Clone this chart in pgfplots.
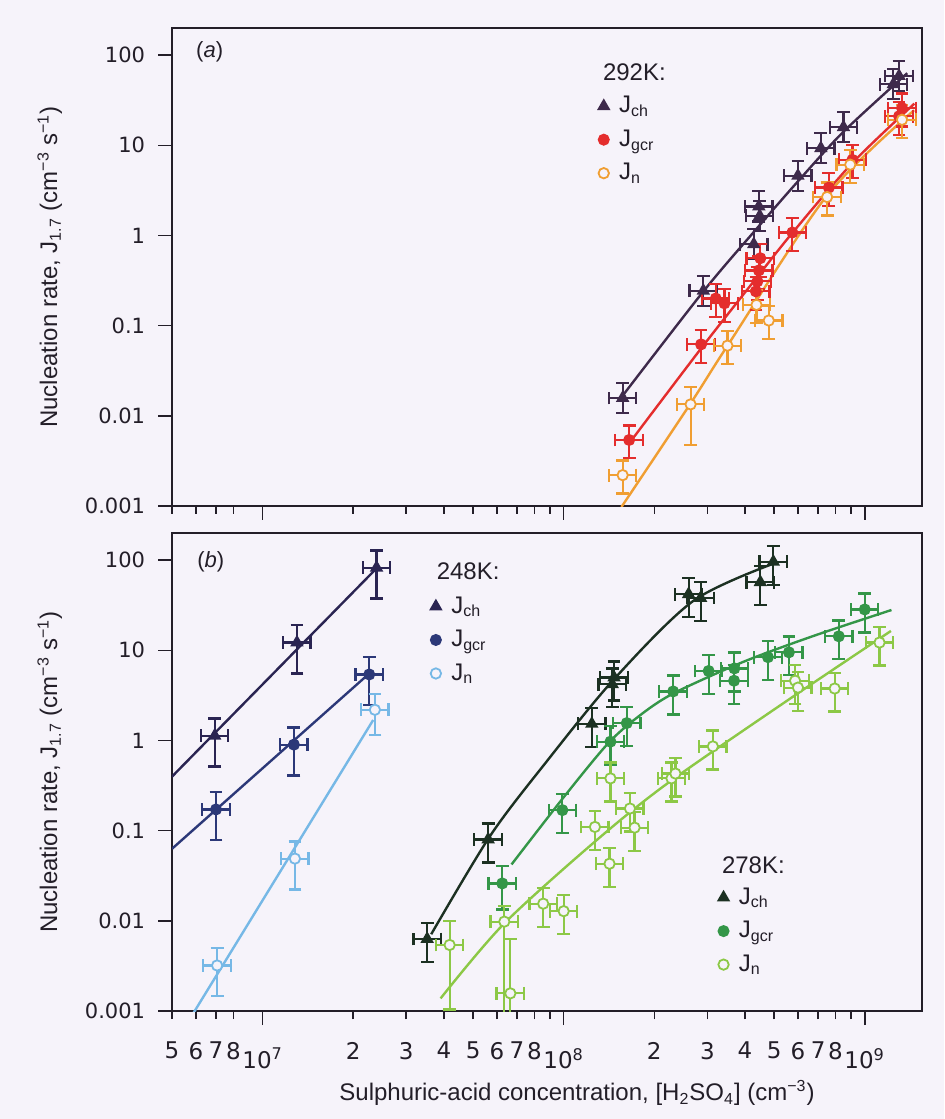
\documentclass[border=0pt]{standalone}
\usepackage{fontspec}
\setmainfont{Liberation Sans}
\newfontfamily\dejavu{DejaVu Sans}
\usepackage{pgfplots}
\usepackage{pgfplotstable}
\pgfplotsset{compat=1.18}

\definecolor{bg}{RGB}{246,243,250}
\definecolor{axc}{RGB}{35,30,40}
\definecolor{ach}{RGB}{62,42,75}
\definecolor{agcr}{RGB}{228,45,45}
\definecolor{an}{RGB}{240,158,50}
\definecolor{bch}{RGB}{42,36,82}
\definecolor{bgcr}{RGB}{44,56,120}
\definecolor{bn}{RGB}{118,184,230}
\definecolor{cch}{RGB}{28,48,34}
\definecolor{cgcr}{RGB}{52,150,72}
\definecolor{cn}{RGB}{140,200,70}

\pgfplotstableread{
x y u d
1.57e8 0.0158 1.47 1.47
2.91e8 0.244 1.47 1.47
4.28e8 0.80 1.47 1.47
4.48e8 1.65 1.47 1.47
4.45e8 2.1 1.47 1.47
6.0e8 4.6 1.47 1.47
7.15e8 9.3 1.47 1.47
8.5e8 15.9 1.47 1.47
1.245e9 47.7 1.47 1.47
1.30e9 58.7 1.47 1.47
}\tAch
\pgfplotstableread{
x y u d
1.65e8 0.0054 1.45 1.6
2.86e8 0.062 1.45 1.6
3.42e8 0.177 1.45 1.6
3.2e8 0.20 1.45 1.6
4.35e8 0.24 1.45 1.6
4.4e8 0.31 1.45 1.6
4.45e8 0.41 1.45 1.6
4.5e8 0.56 1.45 1.6
5.75e8 1.08 1.45 1.6
7.6e8 3.4 1.45 1.6
9.1e8 6.9 1.45 1.6
1.30e9 21 1.45 1.6
1.33e9 25.9 1.45 1.6
}\tAgcr
\pgfplotstableread{
x y u d
1.57e8 0.0022 1.45 1.6
2.64e8 0.0134 1.55 2.8
3.5e8 0.060 1.45 1.6
4.37e8 0.17 1.45 1.6
4.8e8 0.114 1.45 1.6
7.5e8 2.67 1.45 1.6
8.95e8 6.1 1.45 1.6
1.33e9 19.2 1.45 1.6
}\tAn
\pgfplotstableread{
x y u d
6.93e6 1.13 1.55 2.2
1.30e7 12.2 1.55 2.2
2.39e7 82.6 1.55 2.2
}\tBch
\pgfplotstableread{
x y u d
7.0e6 0.172 1.55 2.2
1.27e7 0.90 1.55 2.2
2.26e7 5.4 1.55 2.2
}\tBgcr
\pgfplotstableread{
x y u d
7.06e6 0.0032 1.55 2.2
1.28e7 0.049 1.55 2.2
2.36e7 2.19 1.5 1.9
}\tBn
\pgfplotstableread{
x y u d
3.52e7 0.0063 1.5 1.8
5.61e7 0.080 1.5 1.8
1.24e8 1.53 1.5 1.8
1.45e8 4.2 1.5 1.8
1.47e8 5.0 1.5 1.8
2.6e8 42 1.5 1.8
2.85e8 38 1.5 1.8
4.5e8 57 1.5 1.8
4.97e8 96 1.5 1.8
}\tCch
\pgfplotstableread{
x y u d
6.25e7 0.026 1.55 1.95
9.9e7 0.169 1.5 1.8
1.43e8 0.97 1.5 1.8
1.62e8 1.56 1.5 1.8
2.31e8 3.5 1.5 1.8
3.03e8 5.9 1.5 1.8
3.69e8 6.3 1.5 1.8
3.68e8 4.6 1.5 1.8
4.77e8 8.4 1.5 1.8
5.6e8 9.5 1.5 1.8
8.2e8 14.3 1.5 1.8
1.0e9 28.4 1.5 1.8
}\tCgcr
\pgfplotstableread{
x y u d
4.18e7 0.0054 1.86 5.2
6.35e7 0.0098 1.5 12
6.65e7 0.00157 4.0 12
8.55e7 0.0155 1.5 1.8
1.0e8 0.0128 1.5 1.8
1.27e8 0.110 1.5 1.8
1.42e8 0.043 1.5 1.8
1.43e8 0.38 1.5 1.8
1.66e8 0.176 1.5 1.8
1.72e8 0.108 1.5 1.8
2.28e8 0.38 1.5 1.8
2.35e8 0.43 1.5 1.8
3.13e8 0.86 1.5 1.8
5.87e8 4.6 1.5 1.8
6.0e8 3.86 1.5 1.8
7.95e8 3.77 1.5 1.8
1.12e9 12.2 1.5 1.8
}\tCn

\begin{document}
\begin{tikzpicture}
\fill[bg] (0pt,0pt) rectangle (472pt,-559.5pt);

% ================= panel (a) =================
\begin{axis}[at={(86pt,-253pt)}, anchor=south west,
    scale only axis, width=375pt, height=239pt,
    xmode=log, ymode=log,
    xmin=5e6, xmax=1.55e9, ymin=1e-3, ymax=200,
    axis line style={axc, line width=0.9pt},
    tick align=outside, tick pos=left,
    major tick length=7pt, minor tick length=4pt,
    every tick/.style={axc, line width=0.8pt},
    ytick={0.001,0.01,0.1,1,10,100},
    yticklabels={0.001,0.01,0.1,1,10,100},
    yminorticks=false,
    xtick={1e7,1e8,1e9},
    xticklabels={,,},
    extra x ticks={5e6,6e6,7e6,8e6,2e7,3e7,4e7,5e7,6e7,7e7,8e7,2e8,3e8,4e8,5e8,6e8,7e8,8e8},
    extra x tick labels={,,,,,,,,,,,,,,,,,},
    extra x tick style={major tick length=4pt},
    y tick label style={font=\dejavu\fontsize{10.5}{12}\selectfont, text=axc, xshift=-3pt},
    ylabel={Nucleation rate, J\textsubscript{1.7} (cm\textsuperscript{−3} s\textsuperscript{−1})},
    ylabel style={at={(axis description cs:-0.163,0.5)}, anchor=center, font=\fontsize{12}{14}\selectfont, text=axc},
    legend cell align=left,
    legend style={draw=none, fill=none, font=\fontsize{12}{14}\selectfont, text=axc, row sep=3pt, inner sep=0pt,
      /tikz/every odd column/.append style={column sep=3pt},
      at={(axis cs:1.30e8,39)}, anchor=north west}]
\addplot[color=ach, line width=1.2pt, forget plot, no marks, smooth] coordinates {(1.567e8,0.0166) (2.911e8,0.240) (4.335e8,1.148) (5.998e8,3.98) (8.49e8,14.1) (1.384e9,63.1)};
\addplot[color=agcr, line width=1.2pt, forget plot, no marks, smooth] coordinates {(1.648e8,0.00493) (2.864e8,0.0562) (4.395e8,0.347) (5.754e8,1.072) (9.078e8,6.31) (1.462e9,29.0)};
\addplot[color=an, line width=1.2pt, forget plot, no marks, smooth] coordinates {(1.556e8,0.000977) (2.642e8,0.0138) (3.532e8,0.0628) (7.499e8,2.78) (1.459e9,24.5)};
\addplot[color=ach, only marks, mark=triangle*, mark size=3.1pt, line width=0.8pt,
  error bars/.cd, x dir=both, y dir=both, x explicit, y explicit,
  error bar style={line width=1.1pt}, error mark options={rotate=90, mark size=3.2pt, line width=1.1pt}]
  table[x=x, y=y, x error plus expr=\thisrow{x}*0.11, x error minus expr=\thisrow{x}*0.1,
    y error plus expr=\thisrow{y}*(\thisrow{u}-1), y error minus expr=\thisrow{y}*(1-1/\thisrow{d})] {\tAch};
\addlegendentry{J\textsubscript{ch}}
\addplot[color=agcr, only marks, mark=*, mark size=2.6pt, line width=0.8pt,
  error bars/.cd, x dir=both, y dir=both, x explicit, y explicit,
  error bar style={line width=1.1pt}, error mark options={rotate=90, mark size=3.2pt, line width=1.1pt}]
  table[x=x, y=y, x error plus expr=\thisrow{x}*0.11, x error minus expr=\thisrow{x}*0.1,
    y error plus expr=\thisrow{y}*(\thisrow{u}-1), y error minus expr=\thisrow{y}*(1-1/\thisrow{d})] {\tAgcr};
\addlegendentry{J\textsubscript{gcr}}
\addplot[color=an, only marks, mark=*, mark size=2.6pt, line width=0.9pt, mark options={fill=bg},
  error bars/.cd, x dir=both, y dir=both, x explicit, y explicit,
  error bar style={line width=1.1pt}, error mark options={rotate=90, mark size=3.2pt, line width=1.1pt}]
  table[x=x, y=y, x error plus expr=\thisrow{x}*0.11, x error minus expr=\thisrow{x}*0.1,
    y error plus expr=\thisrow{y}*(\thisrow{u}-1), y error minus expr=\thisrow{y}*(1-1/\thisrow{d})] {\tAn};
\addlegendentry{J\textsubscript{n}}
\node[anchor=west, font=\fontsize{12}{14}\selectfont, text=axc] at (axis cs:1.28e8,64) {292K:};
\node[anchor=west, font=\fontsize{11}{13}\selectfont, text=axc] at (axis cs:5.7e6,110) {(\textit{a})};
\end{axis}

% ================= panel (b) =================
\begin{axis}[at={(86pt,-505.5pt)}, anchor=south west,
    scale only axis, width=375pt, height=239pt,
    xmode=log, ymode=log,
    xmin=5e6, xmax=1.55e9, ymin=1e-3, ymax=200,
    axis line style={axc, line width=0.9pt},
    tick align=outside, tick pos=left,
    major tick length=7pt, minor tick length=4pt,
    every tick/.style={axc, line width=0.8pt},
    ytick={0.001,0.01,0.1,1,10,100},
    yticklabels={0.001,0.01,0.1,1,10,100},
    yminorticks=false,
    xtick={1e7,1e8,1e9},
    xticklabels={{10\textsuperscript{7}},{10\textsuperscript{8}},{10\textsuperscript{9}}},
    x tick label style={font=\dejavu\fontsize{11.5}{12}\selectfont, text=axc, yshift=-8pt},
    extra x ticks={5e6,6e6,7e6,8e6,2e7,3e7,4e7,5e7,6e7,7e7,8e7,2e8,3e8,4e8,5e8,6e8,7e8,8e8},
    extra x tick labels={5,6,7,8,2,3,4,5,6,7,8,2,3,4,5,6,7,8},
    extra x tick style={major tick length=4pt, tick label style={font=\dejavu\fontsize{7.5}{8}\selectfont, yshift=0pt}},
    y tick label style={font=\dejavu\fontsize{10.5}{12}\selectfont, text=axc, xshift=-3pt},
    ylabel={Nucleation rate, J\textsubscript{1.7} (cm\textsuperscript{−3} s\textsuperscript{−1})},
    ylabel style={at={(axis description cs:-0.163,0.5)}, anchor=center, font=\fontsize{12}{14}\selectfont, text=axc},
    xlabel={Sulphuric-acid concentration, [H\textsubscript{2}SO\textsubscript{4}] (cm\textsuperscript{−3})},
    xlabel style={at={(axis description cs:0.54,-0.172)}, anchor=center, font=\fontsize{12}{14}\selectfont, text=axc},
    legend cell align=left,
    legend style={draw=none, fill=none, font=\fontsize{12}{14}\selectfont, text=axc, row sep=3pt, inner sep=0pt,
      /tikz/every odd column/.append style={column sep=3pt},
      at={(axis cs:3.6e7,44)}, anchor=north west}]
\addplot[color=bch, line width=1.2pt, forget plot, no marks] coordinates {(5e6,0.398) (2.43e7,85.9)};
\addplot[color=bgcr, line width=1.2pt, forget plot, no marks] coordinates {(5e6,0.063) (2.27e7,5.61)};
\addplot[color=bn, line width=1.2pt, forget plot, no marks] coordinates {(5.82e6,0.00089) (2.33e7,1.69)};
\addplot[color=bch, only marks, mark=triangle*, mark size=3.1pt, line width=0.8pt,
  error bars/.cd, x dir=both, y dir=both, x explicit, y explicit,
  error bar style={line width=1.1pt}, error mark options={rotate=90, mark size=3.2pt, line width=1.1pt}]
  table[x=x, y=y, x error plus expr=\thisrow{x}*0.11, x error minus expr=\thisrow{x}*0.1,
    y error plus expr=\thisrow{y}*(\thisrow{u}-1), y error minus expr=\thisrow{y}*(1-1/\thisrow{d})] {\tBch};
\addlegendentry{J\textsubscript{ch}}
\addplot[color=bgcr, only marks, mark=*, mark size=2.6pt, line width=0.8pt,
  error bars/.cd, x dir=both, y dir=both, x explicit, y explicit,
  error bar style={line width=1.1pt}, error mark options={rotate=90, mark size=3.2pt, line width=1.1pt}]
  table[x=x, y=y, x error plus expr=\thisrow{x}*0.11, x error minus expr=\thisrow{x}*0.1,
    y error plus expr=\thisrow{y}*(\thisrow{u}-1), y error minus expr=\thisrow{y}*(1-1/\thisrow{d})] {\tBgcr};
\addlegendentry{J\textsubscript{gcr}}
\addplot[color=bn, only marks, mark=*, mark size=2.6pt, line width=0.9pt, mark options={fill=bg},
  error bars/.cd, x dir=both, y dir=both, x explicit, y explicit,
  error bar style={line width=1.1pt}, error mark options={rotate=90, mark size=3.2pt, line width=1.1pt}]
  table[x=x, y=y, x error plus expr=\thisrow{x}*0.11, x error minus expr=\thisrow{x}*0.1,
    y error plus expr=\thisrow{y}*(\thisrow{u}-1), y error minus expr=\thisrow{y}*(1-1/\thisrow{d})] {\tBn};
\addlegendentry{J\textsubscript{n}}
\node[anchor=west, font=\fontsize{12}{14}\selectfont, text=axc] at (axis cs:3.59e7,76) {248K:};
\node[anchor=west, font=\fontsize{11}{13}\selectfont, text=axc] at (axis cs:5.75e6,95) {(\textit{b})};
\node[anchor=west, font=\fontsize{12}{14}\selectfont, text=axc] at (axis cs:3.18e8,0.0416) {278K:};
\end{axis}

\begin{axis}[at={(86pt,-505.5pt)}, anchor=south west, hide axis,
    scale only axis, width=375pt, height=239pt,
    xmode=log, ymode=log,
    xmin=5e6, xmax=1.55e9, ymin=1e-3, ymax=200,
    legend cell align=left,
    legend style={draw=none, fill=none, font=\fontsize{12}{14}\selectfont, text=axc, row sep=3pt, inner sep=0pt,
      /tikz/every odd column/.append style={column sep=3pt},
      at={(axis cs:3.25e8,0.026)}, anchor=north west}]
\addplot[color=cch, line width=1.2pt, forget plot, no marks, smooth] coordinates {(3.63e7,0.0071) (5.69e7,0.087) (8.65e7,0.55) (1.47e8,4.79) (2.70e8,35.5) (5.02e8,92.5)};
\addplot[color=cgcr, line width=1.2pt, forget plot, no marks, smooth] coordinates {(6.71e7,0.0422) (1.005e8,0.240) (1.406e8,0.933) (1.778e8,1.862) (2.307e8,3.31) (3.954e8,7.46) (6.79e8,14.52) (1.227e9,28.0)};
\addplot[color=cn, line width=1.2pt, forget plot, no marks, smooth] coordinates {(3.90e7,0.00138) (6.34e7,0.00933) (1.30e8,0.0809) (2.25e8,0.349) (5.69e8,2.96) (1.222e9,16.4)};
\addplot[color=cch, only marks, mark=triangle*, mark size=3.1pt, line width=0.8pt,
  error bars/.cd, x dir=both, y dir=both, x explicit, y explicit,
  error bar style={line width=1.1pt}, error mark options={rotate=90, mark size=3.2pt, line width=1.1pt}]
  table[x=x, y=y, x error plus expr=\thisrow{x}*0.11, x error minus expr=\thisrow{x}*0.1,
    y error plus expr=\thisrow{y}*(\thisrow{u}-1), y error minus expr=\thisrow{y}*(1-1/\thisrow{d})] {\tCch};
\addlegendentry{J\textsubscript{ch}}
\addplot[color=cgcr, only marks, mark=*, mark size=2.6pt, line width=0.8pt,
  error bars/.cd, x dir=both, y dir=both, x explicit, y explicit,
  error bar style={line width=1.1pt}, error mark options={rotate=90, mark size=3.2pt, line width=1.1pt}]
  table[x=x, y=y, x error plus expr=\thisrow{x}*0.11, x error minus expr=\thisrow{x}*0.1,
    y error plus expr=\thisrow{y}*(\thisrow{u}-1), y error minus expr=\thisrow{y}*(1-1/\thisrow{d})] {\tCgcr};
\addlegendentry{J\textsubscript{gcr}}
\addplot[color=cn, only marks, mark=*, mark size=2.6pt, line width=0.9pt, mark options={fill=bg},
  error bars/.cd, x dir=both, y dir=both, x explicit, y explicit,
  error bar style={line width=1.1pt}, error mark options={rotate=90, mark size=3.2pt, line width=1.1pt}]
  table[x=x, y=y, x error plus expr=\thisrow{x}*0.11, x error minus expr=\thisrow{x}*0.1,
    y error plus expr=\thisrow{y}*(\thisrow{u}-1), y error minus expr=\thisrow{y}*(1-1/\thisrow{d})] {\tCn};
\addlegendentry{J\textsubscript{n}}
\end{axis}
\end{tikzpicture}
\end{document}
